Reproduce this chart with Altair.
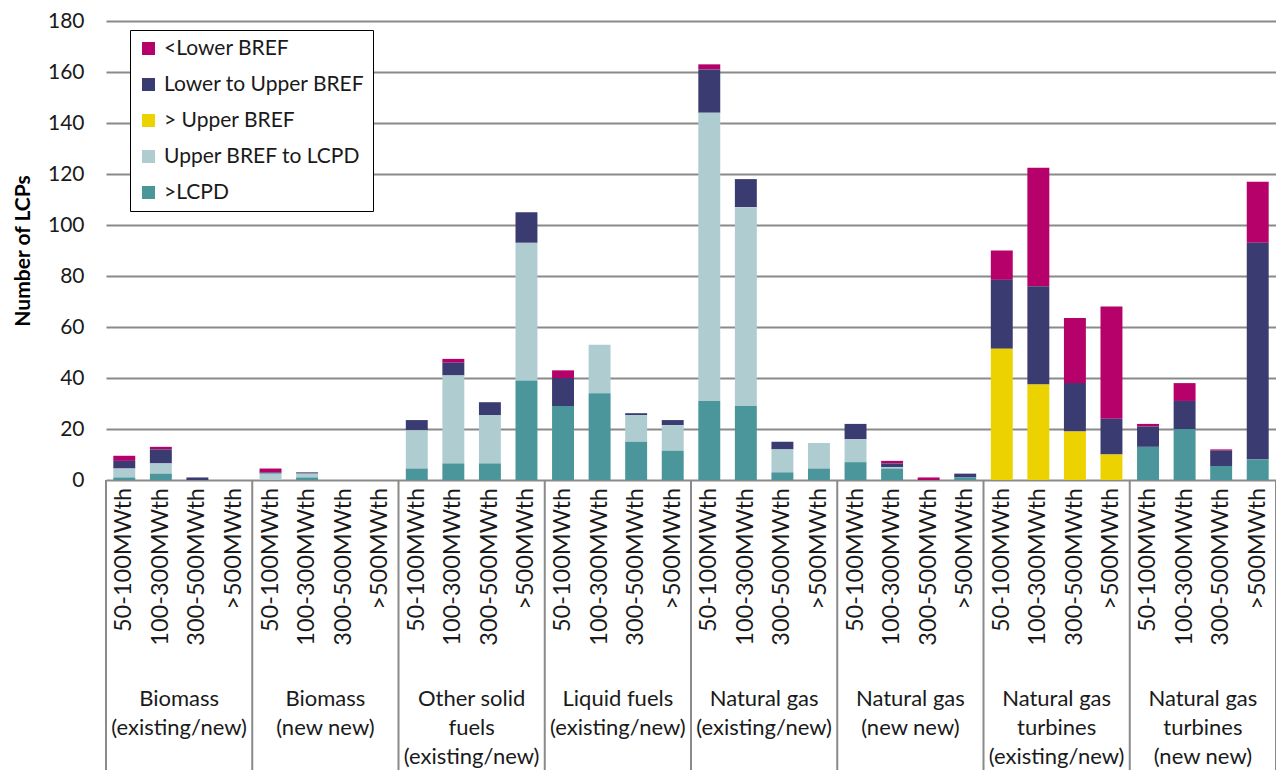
import altair as alt
import pandas as pd

groups = [
    "Biomass\n(existing/new)",
    "Biomass\n(new new)",
    "Other solid\nfuels\n(existing/new)",
    "Liquid fuels\n(existing/new)",
    "Natural gas\n(existing/new)",
    "Natural gas\n(new new)",
    "Natural gas\nturbines\n(existing/new)",
    "Natural gas\nturbines\n(new new)",
]
sizes = ["50-100MWth", "100-300MWth", "300-500MWth", ">500MWth"]

series_names = ["<Lower BREF", "Lower to Upper BREF", "> Upper BREF", "Upper BREF to LCPD", ">LCPD"]
series_colors = ["#B6006A", "#3A3B70", "#EBD200", "#AFCDD1", "#4A969B"]

# values per category (8 groups x 4 sizes)
below_lower = [2, 1, 0, 0,   1.5, 0, 0, 0,   0, 1.5, 0, 0,   3, 0, 0, 0,
               2, 0, 0, 0,   0, 1, 1, 0,   11.5, 46.5, 25.5, 44,   1, 7, 0.5, 24]
lower_to_upper = [3, 5.5, 1, 0,   0.5, 0.5, 0, 0,   4, 5, 5, 12,   11, 0, 0.7, 2,
                  17, 11, 3, 0,   6, 1.5, 0, 1.5,   27, 38.5, 19, 14,   8, 11, 6, 85]
above_upper = [0, 0, 0, 0,   0, 0, 0, 0,   0, 0, 0, 0,   0, 0, 0, 0,
               0, 0, 0, 0,   0, 0, 0, 0,   51.5, 37.5, 19, 10,   0, 0, 0, 0]
upper_to_lcpd = [3.5, 4, 0, 0,   2.5, 1.5, 0, 0,   15, 34.5, 19, 54,   0, 19, 10.5, 10,
                 113, 78, 9, 10,   9, 0.5, 0, 0,   0, 0, 0, 0,   0, 0, 0, 0]
above_lcpd = [1, 2.5, 0, 0,   0, 1, 0, 0,   4.5, 6.5, 6.5, 39,   29, 34, 15, 11.5,
              31, 29, 3, 4.5,   7, 4.5, 0, 1,   0, 0, 0, 0,   13, 20, 5.5, 8]

series_values = [below_lower, lower_to_upper, above_upper, upper_to_lcpd, above_lcpd]

cat_ids = []
sub_rows = []
for gi in range(len(groups)):
    for si, s in enumerate(sizes):
        cid = f"{gi}-{si}"
        cat_ids.append(cid)
        sub_rows.append({"pos": gi * len(sizes) + si + 0.5, "label": s})

rows = []
for k, (name, vals) in enumerate(zip(series_names, series_values)):
    for i, v in enumerate(vals):
        rows.append({"cat": cat_ids[i], "series": name, "value": v,
                     "order": len(series_names) - k})
bars_df = pd.DataFrame(rows)
sub_df = pd.DataFrame(sub_rows)
grp_df = pd.DataFrame({"pos": [gi * 4 + 2 for gi in range(len(groups))], "label": groups})
sep_df = pd.DataFrame({"pos": [gi * 4 for gi in range(len(groups) + 1)]})

W, H = 1170, 459
TOP = 13
BOTTOM = 290
FONT = "Lato"
xq = alt.Scale(domain=[0, len(cat_ids)], nice=False, zero=False)

bars = alt.Chart(bars_df).mark_bar().encode(
    x=alt.X("cat:N", sort=cat_ids, axis=None,
            scale=alt.Scale(paddingInner=0.4, paddingOuter=0.2)),
    y=alt.Y("value:Q", stack="zero",
            scale=alt.Scale(domain=[0, 180], nice=False),
            axis=alt.Axis(values=list(range(0, 181, 20)), grid=True, gridColor="#8a8a8a",
                          gridWidth=2, domain=False, ticks=False, labelFontSize=21,
                          labelFont=FONT, labelColor="#1a1a1a", labelPadding=22,
                          title="Number of LCPs", titleFont=FONT, titleFontSize=21,
                          titleFontWeight="bold", titlePadding=14, titleColor="#000000")),
    color=alt.Color("series:N",
                    scale=alt.Scale(domain=series_names, range=series_colors),
                    legend=alt.Legend(title=None, orient="none", legendX=24, legendY=9,
                                      symbolType="square", symbolSize=170, symbolStrokeWidth=0,
                                      labelFont=FONT, labelFontSize=21, labelColor="#1a1a1a",
                                      labelLimit=400, labelOffset=5, rowPadding=14, padding=8,
                                      strokeColor="#000000", fillColor="#ffffff")),
    order=alt.Order("order:Q", sort="ascending"),
)

sublabels = alt.Chart(sub_df).mark_text(
    angle=270, align="right", baseline="middle", fontSize=23.5, font=FONT, color="#1a1a1a"
).encode(
    x=alt.X("pos:Q", scale=xq, axis=None),
    y=alt.value(H + 8),
    text="label:N",
)

grouplabels = alt.Chart(grp_df).mark_text(
    align="center", baseline="top", fontSize=22, font=FONT, color="#1a1a1a",
    lineBreak="\n", lineHeight=29
).encode(
    x=alt.X("pos:Q", scale=xq, axis=None),
    y=alt.value(H + 209),
    text="label:N",
)

seps = alt.Chart(sep_df).mark_rule(color="#8a8a8a", strokeWidth=2).encode(
    x=alt.X("pos:Q", scale=xq, axis=None),
    y=alt.value(H),
    y2=alt.value(H + BOTTOM),
)

chart = alt.layer(bars, seps, sublabels, grouplabels).resolve_scale(
    x="independent"
).properties(
    width=W, height=H,
    autosize=alt.AutoSizeParams(type="none"),
    padding={"left": 98, "top": TOP, "right": 0, "bottom": BOTTOM},
).configure_view(stroke=None)

chart.save("out.html", embed_options={"renderer": "svg", "actions": False})
